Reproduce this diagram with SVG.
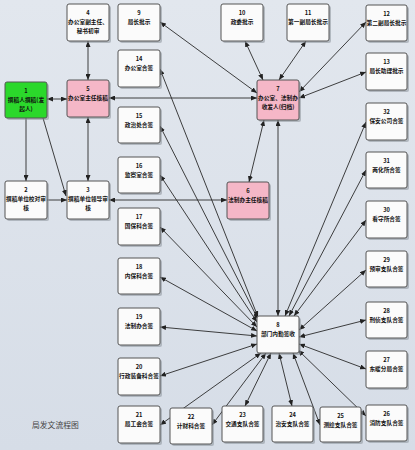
<svg xmlns="http://www.w3.org/2000/svg" width="415" height="450" viewBox="0 0 415 450">
<defs>
<linearGradient id="bg" x1="0" y1="0" x2="0" y2="1">
<stop offset="0" stop-color="#e2e7ee"/>
<stop offset="1" stop-color="#d6dde7"/>
</linearGradient>
<marker id="ah" viewBox="0 0 6 5" refX="6" refY="2.5" markerWidth="6" markerHeight="5" markerUnits="userSpaceOnUse" orient="auto-start-reverse">
<path d="M0,0 L6,2.5 L0,5 z" fill="#222"/>
</marker>
<style>
.sh{fill:#8d939b;opacity:.55}
.box{fill:#fbfbfb;stroke:#555;stroke-width:1}
.green{fill:#2bd82b}
.pink{fill:#f5b7c7}
text{font-family:"Noto Sans CJK SC","DejaVu Sans",sans-serif;font-size:5.7px;font-weight:bold;fill:#111;text-anchor:middle}
.cap{font-size:7.8px;font-weight:normal;fill:#444;text-anchor:start}
#conn line{stroke:#2a2a2a;stroke-width:0.9;fill:none}
.d{marker-start:url(#ah);marker-end:url(#ah)}
.s{marker-end:url(#ah)}
</style>
</defs>
<rect width="415" height="450" fill="url(#bg)"/>

<g id="conn">
<line class="d" x1="88" y1="41" x2="88" y2="80"/>
<line class="d" x1="47" y1="99" x2="67" y2="99"/>
<line class="s" x1="26" y1="118" x2="26" y2="181"/>
<line class="s" x1="47" y1="200" x2="67" y2="200"/>
<line class="s" x1="43" y1="118" x2="66" y2="196"/>
<line class="d" x1="88" y1="117" x2="88" y2="181"/>
<line class="d" x1="109" y1="98" x2="257" y2="98"/>
<line class="d" x1="109" y1="200" x2="227" y2="200"/>
<line class="d" x1="264" y1="120" x2="249" y2="182"/>
<line class="d" x1="278" y1="120" x2="278" y2="316"/>
<line class="d" x1="257" y1="93" x2="160" y2="22"/>
<line class="d" x1="263" y1="80" x2="245" y2="41"/>
<line class="d" x1="279" y1="80" x2="306" y2="41"/>
<line class="d" x1="299" y1="92" x2="366" y2="22"/>
<line class="d" x1="299" y1="98" x2="366" y2="72"/>
<line class="d" x1="160" y1="69" x2="258" y2="317"/>
<line class="d" x1="160" y1="126" x2="258" y2="319"/>
<line class="d" x1="160" y1="175" x2="257" y2="322"/>
<line class="d" x1="160" y1="227" x2="257" y2="327"/>
<line class="d" x1="160" y1="277" x2="257" y2="331"/>
<line class="d" x1="160" y1="327" x2="257" y2="336"/>
<line class="d" x1="160" y1="376" x2="257" y2="344"/>
<line class="d" x1="160" y1="425" x2="261" y2="353"/>
<line class="d" x1="212" y1="425" x2="266" y2="353"/>
<line class="d" x1="245" y1="406" x2="271" y2="353"/>
<line class="d" x1="292" y1="406" x2="279" y2="353"/>
<line class="d" x1="320" y1="425" x2="293" y2="353"/>
<line class="d" x1="366" y1="416" x2="298" y2="350"/>
<line class="d" x1="366" y1="369" x2="299" y2="344"/>
<line class="d" x1="366" y1="320" x2="299" y2="337"/>
<line class="d" x1="366" y1="270" x2="299" y2="330"/>
<line class="d" x1="366" y1="220" x2="294" y2="316"/>
<line class="d" x1="366" y1="170" x2="289" y2="316"/>
<line class="d" x1="366" y1="122" x2="285" y2="316"/>
</g>

<g id="n1"><rect class="sh" x="7" y="84" width="42" height="36" rx="2"/><rect class="box green" x="5" y="82" width="42" height="36" rx="2"/><text x="26" y="93">1</text><text x="26" y="102">撰稿人撰稿(发</text><text x="26" y="111">起人)</text></g>
<g id="n2"><rect class="sh" x="7" y="183" width="42" height="38" rx="2"/><rect class="box" x="5" y="181" width="42" height="38" rx="2"/><text x="26" y="192">2</text><text x="26" y="201">撰稿单位校对审</text><text x="26" y="210">核</text></g>
<g id="n3"><rect class="sh" x="69" y="183" width="42" height="38" rx="2"/><rect class="box" x="67" y="181" width="42" height="38" rx="2"/><text x="88" y="192">3</text><text x="88" y="201">撰稿单位领导审</text><text x="88" y="210">核</text></g>
<g id="n4"><rect class="sh" x="69" y="6" width="42" height="37" rx="2"/><rect class="box" x="67" y="4" width="42" height="37" rx="2"/><text x="88" y="15">4</text><text x="88" y="24">办公室副主任、</text><text x="88" y="33">秘书初审</text></g>
<g id="n5"><rect class="sh" x="69" y="82" width="42" height="37" rx="2"/><rect class="box pink" x="67" y="80" width="42" height="37" rx="2"/><text x="88" y="91">5</text><text x="88" y="100">办公室主任核稿</text></g>
<g id="n6"><rect class="sh" x="229" y="184" width="42" height="37" rx="2"/><rect class="box pink" x="227" y="182" width="42" height="37" rx="2"/><text x="248" y="193">6</text><text x="248" y="202">法制办主任核稿</text></g>
<g id="n7"><rect class="sh" x="259" y="82" width="42" height="40" rx="2"/><rect class="box pink" x="257" y="80" width="42" height="40" rx="2"/><text x="278" y="91">7</text><text x="278" y="100">办公室、法制办</text><text x="278" y="109">收发人(归档)</text></g>
<g id="n8"><rect class="sh" x="259" y="318" width="42" height="37" rx="2"/><rect class="box" x="257" y="316" width="42" height="37" rx="2"/><text x="278" y="327">8</text><text x="278" y="336">部门内勤签收</text></g>
<g id="n9"><rect class="sh" x="120" y="6" width="42" height="37" rx="2"/><rect class="box" x="118" y="4" width="42" height="37" rx="2"/><text x="139" y="15">9</text><text x="139" y="24">局长批示</text></g>
<g id="n10"><rect class="sh" x="223" y="6" width="42" height="37" rx="2"/><rect class="box" x="221" y="4" width="42" height="37" rx="2"/><text x="242" y="15">10</text><text x="242" y="24">政委批示</text></g>
<g id="n11"><rect class="sh" x="289" y="6" width="42" height="37" rx="2"/><rect class="box" x="287" y="4" width="42" height="37" rx="2"/><text x="308" y="15">11</text><text x="308" y="24">第一副局长批示</text></g>
<g id="n12"><rect class="sh" x="368" y="7" width="41" height="36" rx="2"/><rect class="box" x="366" y="5" width="41" height="36" rx="2"/><text x="386.5" y="16">12</text><text x="386.5" y="25">第二副局长批示</text></g>
<g id="n13"><rect class="sh" x="368" y="55" width="41" height="37" rx="2"/><rect class="box" x="366" y="53" width="41" height="37" rx="2"/><text x="386.5" y="64">13</text><text x="386.5" y="73">局长助理批示</text></g>
<g id="n14"><rect class="sh" x="120" y="52" width="42" height="37" rx="2"/><rect class="box" x="118" y="50" width="42" height="37" rx="2"/><text x="139" y="61">14</text><text x="139" y="70">办公室合签</text></g>
<g id="n15"><rect class="sh" x="120" y="109" width="42" height="36" rx="2"/><rect class="box" x="118" y="107" width="42" height="36" rx="2"/><text x="139" y="118">15</text><text x="139" y="127">政治处合签</text></g>
<g id="n16"><rect class="sh" x="120" y="159" width="42" height="36" rx="2"/><rect class="box" x="118" y="157" width="42" height="36" rx="2"/><text x="139" y="168">16</text><text x="139" y="177">监察室合签</text></g>
<g id="n17"><rect class="sh" x="120" y="210" width="42" height="37" rx="2"/><rect class="box" x="118" y="208" width="42" height="37" rx="2"/><text x="139" y="219">17</text><text x="139" y="228">国保科合签</text></g>
<g id="n18"><rect class="sh" x="120" y="260" width="42" height="36" rx="2"/><rect class="box" x="118" y="258" width="42" height="36" rx="2"/><text x="139" y="269">18</text><text x="139" y="278">内保科合签</text></g>
<g id="n19"><rect class="sh" x="120" y="310" width="42" height="37" rx="2"/><rect class="box" x="118" y="308" width="42" height="37" rx="2"/><text x="139" y="319">19</text><text x="139" y="328">法制办合签</text></g>
<g id="n20"><rect class="sh" x="120" y="360" width="42" height="37" rx="2"/><rect class="box" x="118" y="358" width="42" height="37" rx="2"/><text x="139" y="369">20</text><text x="139" y="378">行政装备科合签</text></g>
<g id="n21"><rect class="sh" x="120" y="408" width="42" height="37" rx="2"/><rect class="box" x="118" y="406" width="42" height="37" rx="2"/><text x="139" y="417">21</text><text x="139" y="426">局工会合签</text></g>
<g id="n22"><rect class="sh" x="172" y="410" width="42" height="36" rx="2"/><rect class="box" x="170" y="408" width="42" height="36" rx="2"/><text x="191" y="419">22</text><text x="191" y="428">计财科合签</text></g>
<g id="n23"><rect class="sh" x="224" y="408" width="41" height="36" rx="2"/><rect class="box" x="222" y="406" width="41" height="36" rx="2"/><text x="242.5" y="417">23</text><text x="242.5" y="426">交通支队合签</text></g>
<g id="n24"><rect class="sh" x="274" y="408" width="41" height="36" rx="2"/><rect class="box" x="272" y="406" width="41" height="36" rx="2"/><text x="292.5" y="417">24</text><text x="292.5" y="426">治安支队合签</text></g>
<g id="n25"><rect class="sh" x="322" y="409" width="41" height="35" rx="2"/><rect class="box" x="320" y="407" width="41" height="35" rx="2"/><text x="340.5" y="418">25</text><text x="340.5" y="427">测绘支队合签</text></g>
<g id="n26"><rect class="sh" x="368" y="407" width="41" height="36" rx="2"/><rect class="box" x="366" y="405" width="41" height="36" rx="2"/><text x="386.5" y="416">26</text><text x="386.5" y="425">消防支队合签</text></g>
<g id="n27"><rect class="sh" x="368" y="353" width="41" height="37" rx="2"/><rect class="box" x="366" y="351" width="41" height="37" rx="2"/><text x="386.5" y="362">27</text><text x="386.5" y="371">东暖分局合签</text></g>
<g id="n28"><rect class="sh" x="368" y="304" width="41" height="36" rx="2"/><rect class="box" x="366" y="302" width="41" height="36" rx="2"/><text x="386.5" y="313">28</text><text x="386.5" y="322">刑侦支队合签</text></g>
<g id="n29"><rect class="sh" x="368" y="253" width="41" height="36" rx="2"/><rect class="box" x="366" y="251" width="41" height="36" rx="2"/><text x="386.5" y="262">29</text><text x="386.5" y="271">预审支队合签</text></g>
<g id="n30"><rect class="sh" x="368" y="203" width="41" height="37" rx="2"/><rect class="box" x="366" y="201" width="41" height="37" rx="2"/><text x="386.5" y="212">30</text><text x="386.5" y="221">看守所合签</text></g>
<g id="n31"><rect class="sh" x="368" y="154" width="41" height="36" rx="2"/><rect class="box" x="366" y="152" width="41" height="36" rx="2"/><text x="386.5" y="163">31</text><text x="386.5" y="172">两化所合签</text></g>
<g id="n32"><rect class="sh" x="368" y="105" width="41" height="37" rx="2"/><rect class="box" x="366" y="103" width="41" height="37" rx="2"/><text x="386.5" y="114">32</text><text x="386.5" y="123">保安公司合签</text></g>

<text class="cap" x="32" y="428">局发文流程图</text>
</svg>
